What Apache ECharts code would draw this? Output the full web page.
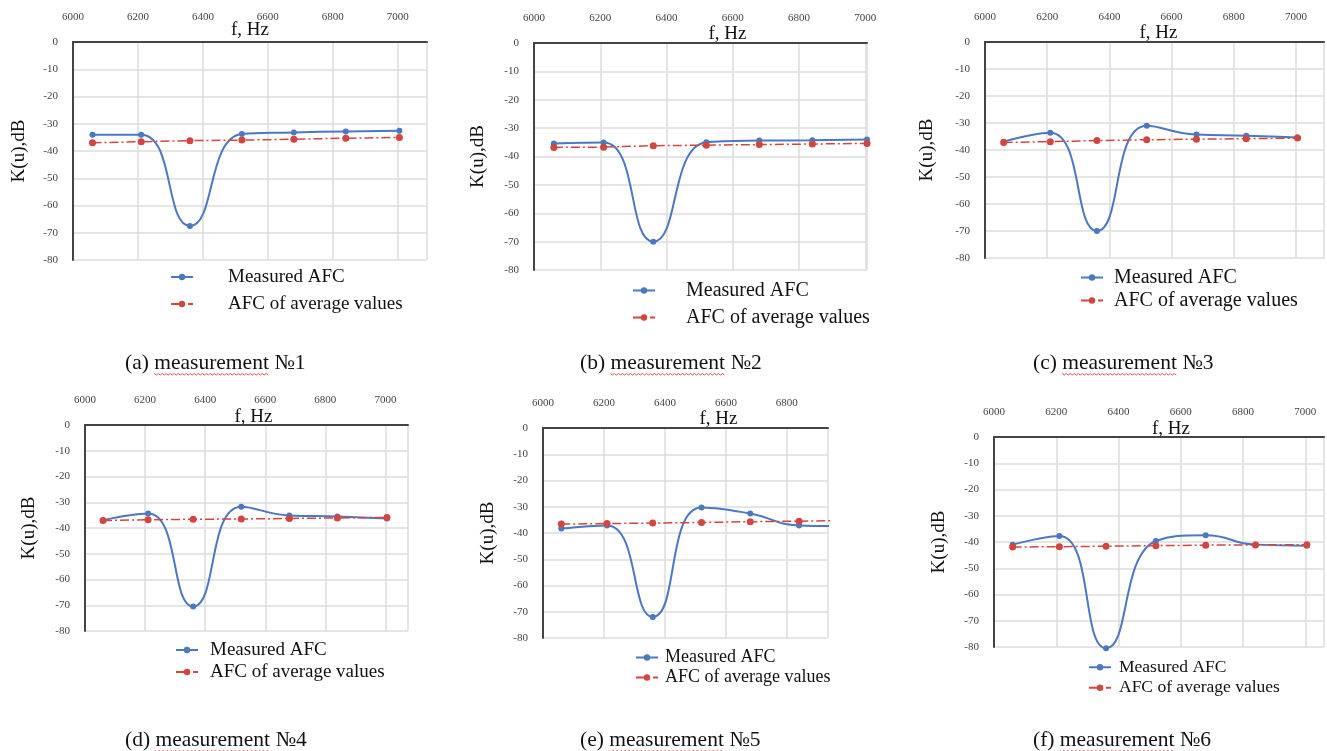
<!DOCTYPE html>
<html><head><meta charset="utf-8">
<script src="https://cdn.jsdelivr.net/npm/echarts@6/dist/echarts.min.js"></script>
<style>html,body{margin:0;padding:0;background:#fff}#c{width:1327px;height:751px}</style>
</head><body><div id="c"></div>
<script>
// ---- data ----
const freqs = [6060, 6210, 6360, 6520, 6680, 6840, 7005];
const xTickStep = 200;
const yMin = -80, yMax = 0, yStep = 10;
const seriesNames = ['Measured AFC', 'AFC of average values'];
const measured1 = [-34, -34, -67.5, -33.8, -33.2, -32.8, -32.6];
const average1  = [-37, -36.6, -36.2, -36, -35.7, -35.3, -35];
const measured2 = [-35.4, -35.1, -70, -35, -34.4, -34.3, -34];
const average2  = [-36.8, -36.7, -36.2, -36, -35.8, -35.6, -35.4];
const measured3 = [-36.9, -33.6, -70, -31, -34.3, -34.7, -35.4];
const average3  = [-37.2, -36.9, -36.5, -36.2, -36, -35.8, -35.6];
const measured4 = [-37, -34.4, -70.5, -31.7, -35.1, -35.5, -36.3];
const average4  = [-37.1, -36.8, -36.6, -36.5, -36.3, -36.1, -35.9];
const measured5 = [-38.3, -37.1, -72, -30.3, -32.6, -37.1, -37.4];
const average5  = [-36.6, -36.4, -36.2, -36, -35.7, -35.5, -35.2];
const measured6 = [-41, -37.7, -80.5, -39.6, -37.4, -41, -41.4];
const average6  = [-41.9, -41.8, -41.6, -41.4, -41.2, -41.1, -41];
const captions = ['(a) measurement №1', '(b) measurement №2', '(c) measurement №3',
                  '(d) measurement №4', '(e) measurement №5', '(f) measurement №6'];
const xName = 'f, Hz';
const yName = 'K(u),dB';

const measuredAll = [measured1, measured2, measured3, measured4, measured5, measured6];
const averageAll = [average1, average2, average3, average4, average5, average6];

// ---- layout ----
const FONT = "'Liberation Serif', 'Times New Roman', serif";
const BLUE = '#4a78c2', RED = '#d2463f';
const panels = [
  {grid:{left:73, top:42, width:354, height:218}, xMax:7090, yGap:44, xPad:0, xGap:2, clip:true,
   lg:{left:170, top:267, pad:30, fs:19, gap:7}, cap:{left:125, top:352}},
  {grid:{left:534, top:43, width:333, height:227}, xMax:7005, yGap:46, xPad:54, xGap:-1, clip:true,
   lg:{left:632, top:280, pad:26, fs:20, gap:6}, cap:{left:580, top:352}},
  {grid:{left:985, top:42, width:342, height:216}, xMax:7090, yGap:48, xPad:8, xGap:-1, clip:true,
   lg:{left:1080, top:267, pad:6, fs:20, gap:2}, cap:{left:1033, top:352}},
  {grid:{left:85, top:425, width:323, height:206}, xMax:7075, yGap:46, xPad:14, xGap:-2, clip:true,
   lg:{left:175, top:640, pad:7, fs:19, gap:2}, cap:{left:125, top:729}},
  {grid:{left:543, top:428, width:285, height:210}, xMax:6935, yGap:45, xPad:66, xGap:-1, clip:true,
   lg:{left:635, top:648, pad:2, fs:18, gap:1}, cap:{left:580, top:729}},
  {grid:{left:994, top:437, width:333, height:210}, xMax:7060, yGap:45, xPad:24, xGap:-2, clip:false,
   lg:{left:1088, top:658, pad:3, fs:17.5, gap:2}, cap:{left:1033, top:729}}
];

const grid = [], xAxis = [], yAxis = [], series = [], legend = [], title = [], graphic = [];
const CAP_FS = 21.5;
const cv = document.createElement('canvas').getContext('2d');
cv.font = CAP_FS + 'px ' + FONT;

panels.forEach((p, i) => {
  grid.push(Object.assign({containLabel:false}, p.grid));
  xAxis.push({
    type:'value', gridIndex:i, position:'top', min:6000, max:p.xMax, interval:xTickStep,
    name:xName, nameLocation:'middle', nameGap:p.xGap, nameMoveOverlap:false,
    nameTextStyle:{fontFamily:FONT, fontSize:19, color:'#111', padding:[0,0,0,p.xPad]},
    axisLine:{show:true, onZero:false, lineStyle:{color:'#444', width:2}},
    axisTick:{show:false},
    axisLabel:{margin:19, fontFamily:FONT, fontSize:11, color:'#444',
      formatter:v => (v % xTickStep === 0 ? String(v) : '')},
    splitLine:{show:true, lineStyle:{color:'#dcdcdc', width:1.5}}
  });
  yAxis.push({
    type:'value', gridIndex:i, min:yMin, max:yMax, interval:yStep,
    name:yName, nameLocation:'middle', nameGap:p.yGap,
    nameTextStyle:{fontFamily:FONT, fontSize:19, color:'#111'},
    axisLine:{show:true, onZero:false, lineStyle:{color:'#444', width:2}},
    axisTick:{show:false},
    axisLabel:{margin:15, fontFamily:FONT, fontSize:11, color:'#444'},
    splitLine:{show:true, lineStyle:{color:'#dcdcdc', width:1.5}}
  });
  series.push({
    name:seriesNames[0], type:'line', xAxisIndex:i, yAxisIndex:i,
    data:freqs.map((f, k) => [f, measuredAll[i][k]]),
    smooth:0.5, symbol:'circle', symbolSize:6, clip:p.clip,
    lineStyle:{color:BLUE, width:2}, itemStyle:{color:BLUE}, z:3
  });
  series.push({
    name:seriesNames[1], type:'line', xAxisIndex:i, yAxisIndex:i,
    data:freqs.map((f, k) => [f, averageAll[i][k]]),
    symbol:'circle', symbolSize:7, clip:true,
    lineStyle:{color:RED, width:1.5, type:[9,3,2,3]}, itemStyle:{color:RED}, z:4
  });
  legend.push({
    orient:'vertical', left:p.lg.left, top:p.lg.top, itemGap:p.lg.gap,
    itemWidth:22, itemHeight:8, padding:0,
    data:seriesNames,
    textStyle:{fontFamily:FONT, fontSize:p.lg.fs, lineHeight:p.lg.fs + 1, color:'#111',
      padding:[0,0,0,p.lg.pad]}
  });
  title.push({
    text:captions[i], left:p.cap.left, top:p.cap.top, padding:0,
    textStyle:{fontFamily:FONT, fontSize:CAP_FS, fontWeight:'normal', color:'#111'}
  });
  // spell-check squiggle under the word "measurement"
  const pre = cv.measureText(captions[i].split(' ')[0] + ' ').width;
  const w = cv.measureText('measurement').width;
  const x0 = p.cap.left + pre, yb = p.cap.top + CAP_FS;
  const pts = [];
  for (let s = 0, k = 0; s <= w; s += 2, k++) pts.push([x0 + s, yb + (k % 2 ? 1.5 : 0)]);
  graphic.push({type:'polyline', shape:{points:pts}, style:{stroke:'#e05555', lineWidth:1, fill:null}, silent:true});
});

const chart = echarts.init(document.getElementById('c'), null, {renderer:'canvas'});
chart.setOption({
  backgroundColor:'#fff', animation:false,
  textStyle:{fontFamily:FONT},
  grid, xAxis, yAxis, series, legend, title, graphic
});
</script>
</body></html>
